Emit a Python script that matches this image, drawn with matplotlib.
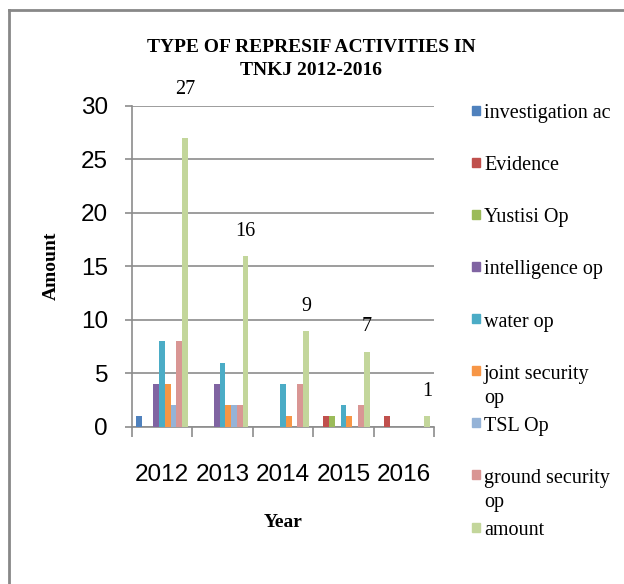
import numpy as np
import matplotlib
matplotlib.use("Agg")
import matplotlib.pyplot as plt
from matplotlib.lines import Line2D
from matplotlib.patches import Rectangle

years = ["2012", "2013", "2014", "2015", "2016"]
series_names = ["investigation ac", "Evidence", "Yustisi Op", "intelligence op",
                "water op", "joint security\nop", "TSL Op",
                "ground security\nop", "amount"]
investigation = [1, 0, 0, 0, 0]
evidence = [0, 0, 0, 1, 1]
yustisi = [0, 0, 0, 1, 0]
intelligence = [4, 4, 0, 0, 0]
water = [8, 6, 4, 2, 0]
joint_security = [4, 2, 1, 1, 0]
tsl = [2, 2, 0, 0, 0]
ground_security = [8, 2, 4, 2, 0]
amount = [27, 16, 9, 7, 1]

series_values = [investigation, evidence, yustisi, intelligence, water,
                 joint_security, tsl, ground_security, amount]
colors = ["#4F81BD", "#C0504D", "#9BBB59", "#8064A2", "#4BACC6",
          "#F79646", "#95B3D7", "#D99694", "#C3D69B"]

SERIF = "Liberation Serif"
SANS = "Liberation Sans"
grid_col = "#8c8c8c"

fig = plt.figure(figsize=(6.24, 5.84), dpi=100)
ax = fig.add_axes([0.211, 0.269, 0.485, 0.55])

n = len(series_values)
x = np.arange(len(years))
group = 0.86
w = group / n
for i, (vals, col) in enumerate(zip(series_values, colors)):
    off = -group / 2 + w * (i + 0.5)
    ax.bar(x + off, vals, width=w, color=col, zorder=3, linewidth=0)

# data labels on the amount series
amt_off = -group / 2 + w * (n - 0.5)
label_offsets = [35, 17, 17, 18, 18]  # points above bar top
for xi, v, dy in zip(x, amount, label_offsets):
    ax.annotate(str(v), (xi + amt_off, v), xytext=(0, dy), textcoords="offset points",
                ha="center", va="center", fontsize=14.5, family=SERIF)

ax.set_xlim(-0.5, len(years) - 0.5)
ax.set_ylim(0, 30)
ax.set_yticks(range(0, 31, 5))
ax.yaxis.grid(True, color=grid_col, linewidth=1.2, zorder=0)
ax.set_axisbelow(True)

ax.set_xticks(np.arange(-0.5, len(years), 1.0))
ax.set_xticklabels([])
ax.set_xticks(x, minor=True)
ax.set_xticklabels(years, minor=True, family=SANS, fontsize=17.5)
ax.tick_params(axis="x", which="major", length=7.5, width=1.2, color=grid_col, direction="out")
ax.tick_params(axis="x", which="minor", length=0, pad=27)
ax.tick_params(axis="y", length=5, width=1.2, color=grid_col, pad=12)
for lab in ax.get_yticklabels():
    lab.set_family(SANS)
    lab.set_fontsize(17.5)

for s in ["top", "right"]:
    ax.spines[s].set_visible(False)
for s in ["left", "bottom"]:
    ax.spines[s].set_color(grid_col)
    ax.spines[s].set_linewidth(1.2)

ax.set_ylabel("Amount", family=SERIF, fontsize=14, fontweight="bold", labelpad=15)
ax.set_xlabel("Year", family=SERIF, fontsize=14, fontweight="bold", labelpad=20)

fig.text(311 / 624, 1 - 59 / 584, "TYPE OF REPRESIF ACTIVITIES IN\nTNKJ 2012-2016",
         ha="center", va="center", family=SERIF, fontsize=14, fontweight="bold",
         linespacing=1.45)

# legend drawn by hand to match spacing
y0, y1 = 110, 527
for i, (name, col) in enumerate(zip(series_names, colors)):
    yy = y0 + (y1 - y0) * i / (n - 1)
    fig.add_artist(Rectangle((472 / 624, 1 - (yy + 4.5) / 584), 8 / 624, 9 / 584,
                             transform=fig.transFigure, color=col))
    fig.text(484 / 624, 1 - (yy - 6) / 584, name, ha="left", va="top",
             family=SERIF, fontsize=14.5, linespacing=1.35)

# chart frame (left and top edges)
fig.add_artist(Line2D([8.5 / 624, 8.5 / 624], [0, 1 - 10 / 584], transform=fig.transFigure,
                      color="#888888", linewidth=2))
fig.add_artist(Line2D([8.5 / 624, 1], [1 - 10 / 584, 1 - 10 / 584], transform=fig.transFigure,
                      color="#888888", linewidth=2))

fig.savefig("out.png", dpi=100)
